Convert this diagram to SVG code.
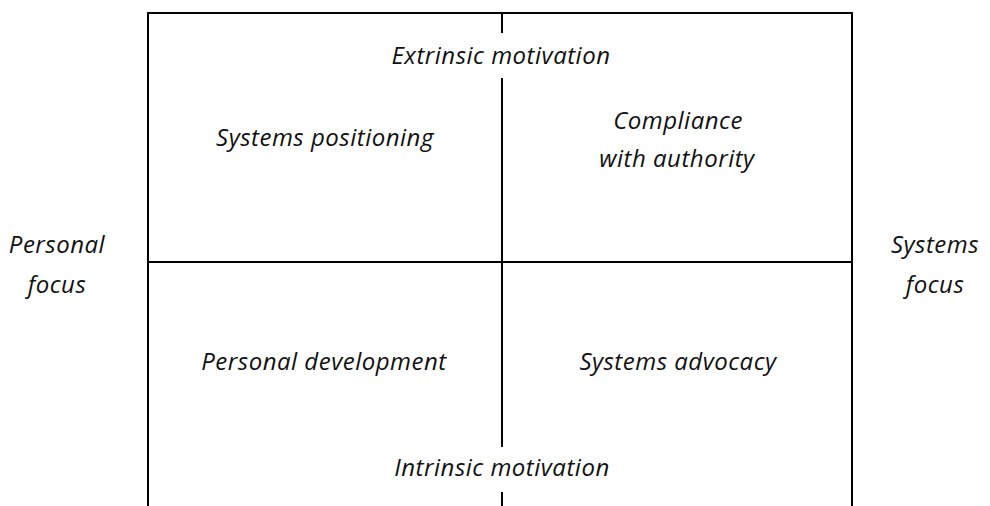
<svg xmlns="http://www.w3.org/2000/svg" width="990" height="506" viewBox="0 0 990 506">
<style>
text{font-family:"Open Sans",Lato,"Liberation Sans",sans-serif;font-style:italic;font-size:24px;letter-spacing:0.5px;fill:#111;text-anchor:middle}
.ln{stroke:#000;stroke-width:2;fill:none}
</style>
<rect width="990" height="506" fill="#fff"/>
<g id="connectors">
<path class="ln" d="M148,507 V13 H852 V507"/>
<path class="ln" d="M148,262 H852"/>
<path class="ln" d="M502,13 V33 M502,78 V447 M502,492 V507"/>
</g>
<g id="top-label"><text x="501" y="64">Extrinsic motivation</text></g>
<g id="bottom-label"><text x="502" y="476">Intrinsic motivation</text></g>
<g id="left-label"><text x="57" y="253">Personal</text><text x="57" y="293">focus</text></g>
<g id="right-label"><text x="935" y="253">Systems</text><text x="935" y="293">focus</text></g>
<g id="q-tl"><text x="325" y="146">Systems positioning</text></g>
<g id="q-tr"><text x="678" y="129">Compliance</text><text x="677" y="167">with authority</text></g>
<g id="q-bl"><text x="324" y="370">Personal development</text></g>
<g id="q-br"><text x="678" y="370">Systems advocacy</text></g>
</svg>
